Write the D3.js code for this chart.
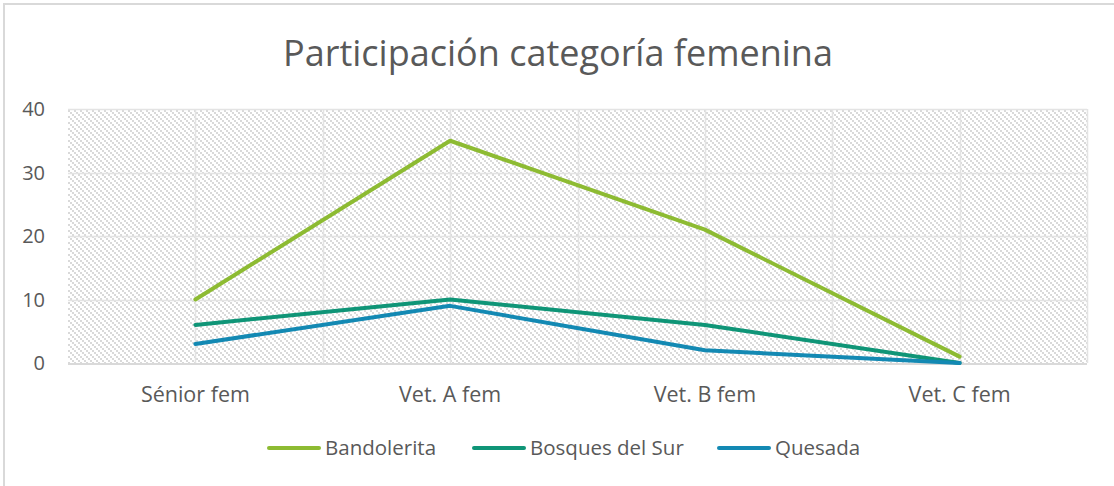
<!DOCTYPE html>
<html>
<head>
<meta charset="utf-8">
<script src="https://cdn.jsdelivr.net/npm/d3@7"></script>
<style>
  body { margin: 0; background: #fff; }
  text { font-family: "Open Sans", "Noto Sans", sans-serif; fill: #595959; }
</style>
</head>
<body>
<script>
const width = 1114;
const height = 486;

const title = "Participación categoría femenina";
const categories = ["Sénior fem", "Vet. A fem", "Vet. B fem", "Vet. C fem"];
const seriesNames = ["Bandolerita", "Bosques del Sur", "Quesada"];
const bandolerita = [10, 35, 21, 1];
const bosquesDelSur = [6, 10, 6, 0];
const quesada = [3, 9, 2, 0];
const yTicks = [0, 10, 20, 30, 40];
const colors = ["#8DBB32", "#0F9577", "#1389B3"];

const series = [bandolerita, bosquesDelSur, quesada].map((values, i) => ({
    name: seriesNames[i],
    color: colors[i],
    values: values
}));

const margin = {top: 109, right: 27, bottom: 123, left: 68};

const svg = d3.select(document.body).append("svg")
    .attr("width", width)
    .attr("height", height);

// hatched fill of the plot area
const pattern = svg.append("defs").append("pattern")
    .attr("id", "hatch")
    .attr("width", 6)
    .attr("height", 6)
    .attr("patternUnits", "userSpaceOnUse");
pattern.append("rect").attr("width", 6).attr("height", 6).attr("fill", "#fff");
[0, 2, 4].forEach(d => {
    pattern.append("rect")
        .attr("x", d).attr("y", d)
        .attr("width", 2).attr("height", 2)
        .attr("fill", "#d9d9d9");
});

// chart border (top and left only visible)
svg.append("path")
    .attr("d", `M4,${height} V4 H${width}`)
    .attr("fill", "none")
    .attr("stroke", "#d9d9d9")
    .attr("stroke-width", 2);

const x = d3.scaleBand()
    .domain(categories)
    .range([margin.left, width - margin.right]);

const y = d3.scaleLinear()
    .domain([0, 40])
    .range([height - margin.bottom, margin.top]);

svg.append("rect")
    .attr("x", margin.left)
    .attr("y", margin.top)
    .attr("width", width - margin.left - margin.right)
    .attr("height", height - margin.top - margin.bottom)
    .attr("fill", "url(#hatch)");

// horizontal grid
svg.append("g")
    .selectAll("line")
    .data(yTicks.filter(d => d > 0))
    .join("line")
    .attr("x1", margin.left)
    .attr("x2", width - margin.right)
    .attr("y1", d => Math.round(y(d)) + 0.5)
    .attr("y2", d => Math.round(y(d)) + 0.5)
    .attr("stroke", "#e3e3e3")
    .attr("stroke-width", 1.5);

// vertical grid at category centres and boundaries
const vLines = [];
categories.forEach(c => {
    vLines.push(x(c) + x.bandwidth() / 2);
    vLines.push(x(c) + x.bandwidth());
});
svg.append("g")
    .selectAll("line")
    .data(vLines)
    .join("line")
    .attr("x1", d => Math.round(d) + 0.5)
    .attr("x2", d => Math.round(d) + 0.5)
    .attr("y1", margin.top)
    .attr("y2", height - margin.bottom)
    .attr("stroke", "#e3e3e3")
    .attr("stroke-width", 1.5);

// baseline
svg.append("line")
    .attr("x1", margin.left)
    .attr("x2", width - margin.right)
    .attr("y1", y(0) + 1)
    .attr("y2", y(0) + 1)
    .attr("stroke", "#d9d9d9")
    .attr("stroke-width", 2);

// y axis labels
svg.append("g")
    .selectAll("text")
    .data(yTicks)
    .join("text")
    .attr("x", 45)
    .attr("y", d => y(d))
    .attr("dy", "0.35em")
    .attr("text-anchor", "end")
    .attr("font-size", 20)
    .text(d => d);

// category labels
svg.append("g")
    .selectAll("text")
    .data(categories)
    .join("text")
    .attr("x", d => x(d) + x.bandwidth() / 2)
    .attr("y", 402)
    .attr("text-anchor", "middle")
    .attr("font-size", 21.5)
    .text(d => d);

// lines
const line = d3.line()
    .x((d, i) => x(categories[i]) + x.bandwidth() / 2)
    .y(d => y(d));

svg.append("g")
    .selectAll("path")
    .data(series)
    .join("path")
    .attr("d", d => line(d.values))
    .attr("fill", "none")
    .attr("stroke", d => d.color)
    .attr("stroke-width", 4)
    .attr("stroke-linejoin", "round")
    .attr("stroke-linecap", "round");

// title
svg.append("text")
    .attr("x", 558)
    .attr("y", 66)
    .attr("text-anchor", "middle")
    .attr("font-size", 36)
    .text(title);

// legend
const legendX = [267, 472, 717];
const legend = svg.append("g")
    .selectAll("g")
    .data(series)
    .join("g")
    .attr("transform", (d, i) => `translate(${legendX[i]},448)`);
legend.append("line")
    .attr("x1", 2).attr("x2", 52)
    .attr("stroke", d => d.color)
    .attr("stroke-width", 4)
    .attr("stroke-linecap", "round");
legend.append("text")
    .attr("x", 58)
    .attr("dy", "0.35em")
    .attr("font-size", 20.5)
    .text(d => d.name);
</script>
</body>
</html>
